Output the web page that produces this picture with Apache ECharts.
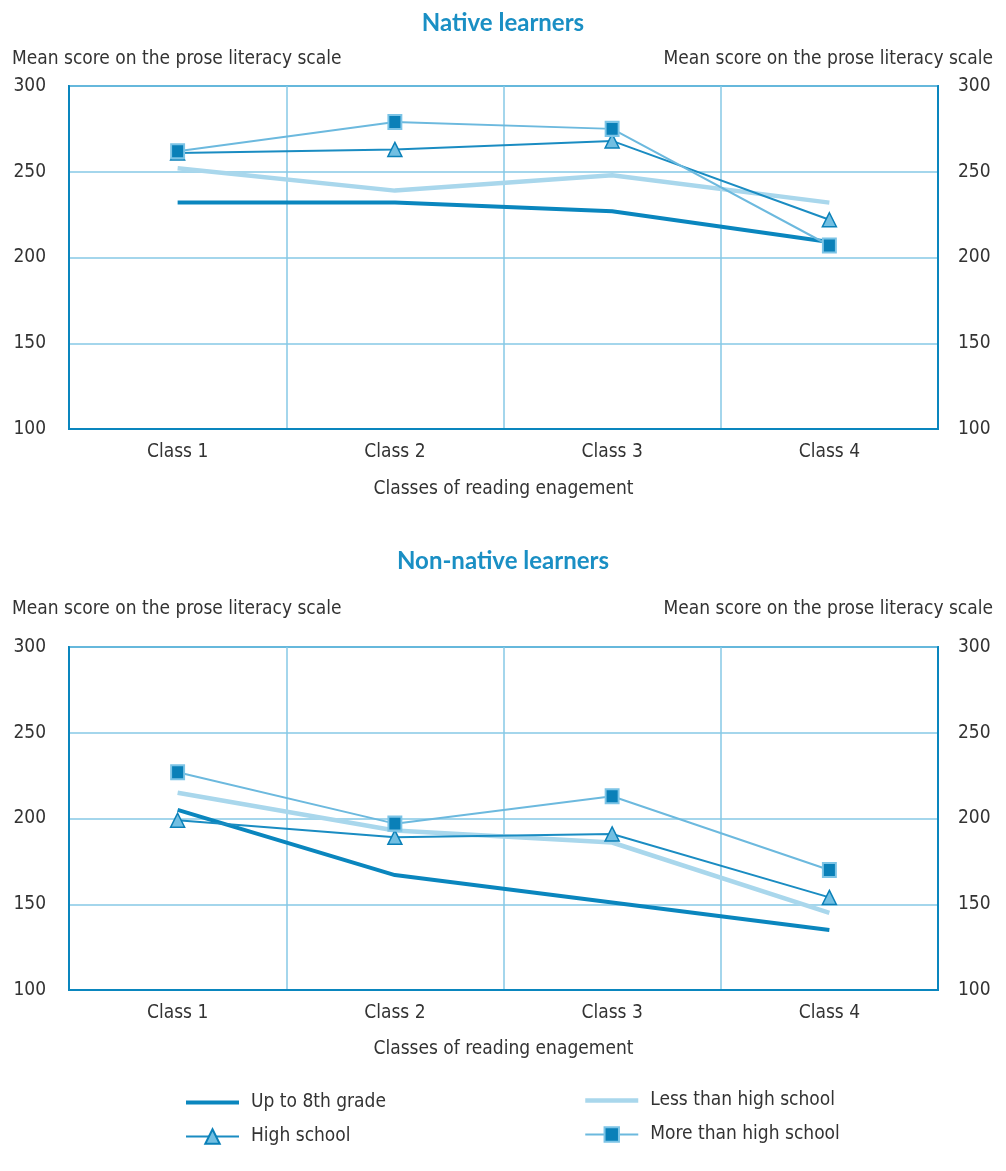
<!DOCTYPE html>
<html><head><meta charset="utf-8">
<script src="https://cdn.jsdelivr.net/npm/echarts@6/dist/echarts.min.js"></script>
<style>html,body{margin:0;padding:0;background:#fff}#c{width:1006px;height:1171px}</style>
</head><body><div id="c"></div>
<script>
const categories = ['Class 1', 'Class 2', 'Class 3', 'Class 4'];
const yTicks = [100, 150, 200, 250, 300];
const seriesNames = ['Up to 8th grade', 'Less than high school', 'High school', 'More than high school'];

const nativeUpTo8th = [232, 232, 227, 209];
const nativeLessHS = [252, 239, 248, 232];
const nativeHS = [261, 263, 268, 222];
const nativeMoreHS = [262, 279, 275, 207];

const nonNativeUpTo8th = [205, 167, 151, 135];
const nonNativeLessHS = [215, 193, 186, 145];
const nonNativeHS = [199, 189, 191, 154];
const nonNativeMoreHS = [227, 197, 213, 170];

const FONT = "'Liberation Sans Narrow', 'DejaVu Sans Condensed', 'Liberation Sans', sans-serif";
const TXT = '#333333';
const DARK = '#0a86be';
const LIGHT = '#a9d7ec';
const MID = '#6cb9de';
const GRIDC = '#86c8e6';
const FS = 19;

const chartTitles = ['Native learners', 'Non-native learners'];
const yName = 'Mean score on the prose literacy scale';
const xName = 'Classes of reading enagement';

const grids = [
  {left: 69, top: 86, width: 869, height: 343},
  {left: 69, top: 647, width: 869, height: 343}
];

function xAx(gi, gap){
  return {
    type: 'category', gridIndex: gi, data: categories, boundaryGap: true,
    axisLine: {show: true, lineStyle: {color: DARK, width: 2}},
    axisTick: {show: false},
    axisLabel: {color: TXT, fontFamily: FONT, fontSize: FS, margin: 14},
    splitLine: {show: true, lineStyle: {color: GRIDC, width: 1.5}},
    name: xName, nameLocation: 'middle', nameGap: gap,
    nameTextStyle: {color: TXT, fontFamily: FONT, fontSize: FS}
  };
}
function yAx(gi, pos){
  return {
    type: 'value', gridIndex: gi, position: pos, min: yTicks[0], max: yTicks[yTicks.length-1], interval: 50,
    axisLine: {show: true, lineStyle: {color: DARK, width: 2}},
    axisTick: {show: false},
    axisLabel: {color: TXT, fontFamily: FONT, fontSize: FS, margin: pos === 'left' ? 23 : 20, padding: [8, 0, 0, 0]},
    splitLine: {show: pos === 'left', lineStyle: {color: GRIDC, width: 1.5}}
  };
}

function makeSeries(gi, d8, dLess, dHS, dMore){
  const xi = gi, yi = gi * 2;
  return [
    {name: seriesNames[1], type: 'line', xAxisIndex: xi, yAxisIndex: yi, data: dLess, symbol: 'none',
     lineStyle: {color: LIGHT, width: 4.5}, itemStyle: {color: LIGHT}, z: 2},
    {name: seriesNames[0], type: 'line', xAxisIndex: xi, yAxisIndex: yi, data: d8, symbol: 'none',
     lineStyle: {color: DARK, width: 4}, itemStyle: {color: DARK}, z: 3},
    {name: seriesNames[2], type: 'line', xAxisIndex: xi, yAxisIndex: yi, data: dHS, symbol: 'triangle', symbolSize: [14, 14],
     lineStyle: {color: '#1a8cc2', width: 2}, itemStyle: {color: '#72bfe2', borderColor: '#0a80b8', borderWidth: 1.5}, z: 4},
    {name: seriesNames[3], type: 'line', xAxisIndex: xi, yAxisIndex: yi, data: dMore, symbol: 'rect', symbolSize: [13, 14],
     lineStyle: {color: MID, width: 2}, itemStyle: {color: '#0a80b8', borderColor: '#7cc4e6', borderWidth: 2}, z: 5}
  ];
}

const legendBase = {orient: 'vertical', itemWidth: 53, itemHeight: 18, itemGap: 15, padding: 0,
  textStyle: {color: TXT, fontFamily: FONT, fontSize: FS, padding: [0, 0, 0, 7]}, selectedMode: false};
const hideSym = {color: 'rgba(0,0,0,0)', borderColor: 'rgba(0,0,0,0)', borderWidth: 0, opacity: 0};

const titleStyle = {color: '#1a8fc4', fontFamily: "'Lato', 'Open Sans', sans-serif", fontWeight: 'bold', fontSize: 24};
const yNameStyle = {color: TXT, fontFamily: FONT, fontSize: FS, fontWeight: 'normal'};

const option = {
  animation: false,
  backgroundColor: '#ffffff',
  title: [
    {text: chartTitles[0], left: 'center', top: 11, padding: 0, textStyle: titleStyle},
    {text: chartTitles[1], left: 'center', top: 549, padding: 0, textStyle: titleStyle},
    {text: yName, left: 12, top: 50, padding: 0, textStyle: yNameStyle},
    {text: yName, right: 13, top: 50, padding: 0, textStyle: yNameStyle},
    {text: yName, left: 12, top: 600, padding: 0, textStyle: yNameStyle},
    {text: yName, right: 13, top: 600, padding: 0, textStyle: yNameStyle}
  ],
  grid: grids.map(g => Object.assign({show: true, borderColor: DARK, borderWidth: 2, backgroundColor: 'transparent'}, g)),
  xAxis: [xAx(0, 51), xAx(1, 50)],
  yAxis: [yAx(0, 'left'), yAx(0, 'right'), yAx(1, 'left'), yAx(1, 'right')],
  legend: [
    Object.assign({}, legendBase, {left: 184, top: 1093, data: [
      {name: seriesNames[0], itemStyle: hideSym, lineStyle: {width: 4}},
      {name: seriesNames[2], lineStyle: {width: 2}}
    ]}),
    Object.assign({}, legendBase, {left: 583, top: 1091, data: [
      {name: seriesNames[1], itemStyle: hideSym, lineStyle: {width: 4.5}},
      {name: seriesNames[3], lineStyle: {width: 2}}
    ]})
  ],
  series: [].concat(
    makeSeries(0, nativeUpTo8th, nativeLessHS, nativeHS, nativeMoreHS),
    makeSeries(1, nonNativeUpTo8th, nonNativeLessHS, nonNativeHS, nonNativeMoreHS)
  )
};

const chart = echarts.init(document.getElementById('c'), null, {renderer: 'canvas'});
chart.setOption(option);
</script></body></html>
